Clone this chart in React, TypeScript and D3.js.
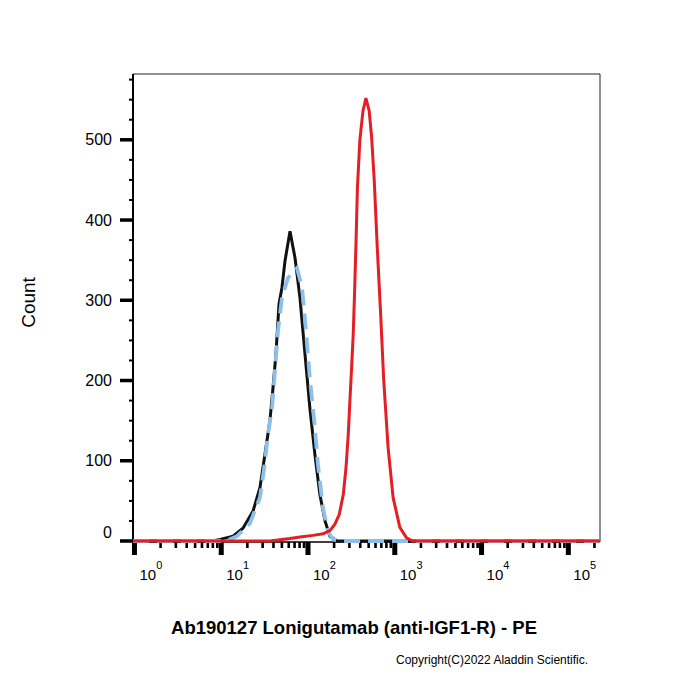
import * as d3 from 'd3';
import React from 'react';

// Histogram series: [fluorescence intensity (PE), event count]
const blankControl: [number, number][] = [
  [0.962, 0], [7.9, 0], [9.7, 2], [13.7, 6], [17.8, 16], [23.2, 37], [27.9, 66],
  [31.9, 108], [36.4, 150], [39.5, 191], [42.7, 233], [46.3, 295], [50.1, 316],
  [54.3, 349], [62.0, 386], [70.8, 353], [80.8, 303], [92.3, 233], [105, 166],
  [120, 108], [137, 58], [157, 25], [179, 6], [216, 0], [231700, 0],
];

const isotypeControl: [number, number][] = [
  [0.962, 0], [11.2, 0], [15.2, 6], [21.4, 22], [27.9, 54], [31.0, 88], [34.6, 133],
  [38.5, 166], [41.6, 212], [45.1, 262], [50.1, 303], [58.8, 328], [74.6, 340],
  [85.3, 316], [94.8, 262], [105, 203], [120, 141], [130, 96], [149, 41],
  [170, 12], [194, 2], [234, 0], [231700, 0],
];

const lonigutamab: [number, number][] = [
  [0.962, 0], [36.5, 0], [61.9, 3], [80.8, 5], [114, 7], [149, 9], [179, 13],
  [204, 21], [229, 33], [255, 58], [274, 91], [291, 133], [304, 175], [318, 216],
  [332, 258], [343, 305], [357, 370], [371, 440], [396, 500], [430, 536],
  [465, 552], [507, 536], [541, 503], [580, 449], [628, 366], [687, 283],
  [746, 200], [838, 116], [957, 54], [1143, 17], [1365, 4], [1614, 0], [231700, 0],
];

const decades = [0, 1, 2, 3, 4, 5];
const countTicks = [0, 100, 200, 300, 400, 500];

const xLabel = 'Ab190127 Lonigutamab (anti-IGF1-R) - PE';
const yLabel = 'Count';
const copyright = 'Copyright(C)2022 Aladdin Scientific.';

const font = 'Arial, "Liberation Sans", sans-serif';

export default function App() {
  const plot = { left: 133, right: 600, top: 74, bottom: 541 };

  const x = d3.scaleLog().domain([0.962, 231700]).range([plot.left, plot.right]);
  const y = d3.scaleLinear().domain([0, 582]).range([plot.bottom, plot.top]);

  const line = d3
    .line<[number, number]>()
    .x((d) => x(d[0]))
    .y((d) => y(d[1]));

  const [xMin, xMax] = x.domain();
  const minorX: number[] = [];
  decades.forEach((k) => {
    for (let m = 2; m <= 9; m++) {
      const v = m * Math.pow(10, k);
      if (v >= xMin && v <= xMax) minorX.push(v);
    }
  });
  const minorY = d3.range(25, 582, 25).filter((v) => v % 100 !== 0);

  const axisY = plot.bottom + 1;

  return (
    <svg
      width={700}
      height={700}
      style={{ position: 'absolute', left: 0, top: 0, background: '#fff' }}
      fontFamily={font}
    >
      <rect width={700} height={700} fill="#fff" />

      {/* frame */}
      <line x1={plot.left} x2={plot.right} y1={plot.top} y2={plot.top} stroke="#222" strokeWidth={1} />
      <line x1={plot.right} x2={plot.right} y1={plot.top} y2={axisY} stroke="#222" strokeWidth={1} />
      <line x1={plot.left} x2={plot.left} y1={plot.top} y2={axisY + 1} stroke="#000" strokeWidth={2} />
      <line x1={plot.left} x2={plot.right} y1={axisY} y2={axisY} stroke="#000" strokeWidth={1.5} />

      {/* y axis ticks */}
      {minorY.map((v) => (
        <rect key={`my-${v}`} x={plot.left - 4} y={y(v) - 1} width={4} height={2} fill="#000" />
      ))}
      {countTicks.map((v) => (
        <g key={`y-${v}`}>
          <rect x={plot.left - 13} y={y(v) - 1.75} width={13} height={3.5} fill="#000" />
          <text
            x={112}
            y={y(v) - (v === 0 ? 9 : 0)}
            textAnchor="end"
            dominantBaseline="central"
            fontSize={16}
          >
            {v}
          </text>
        </g>
      ))}

      {/* x axis ticks */}
      {minorX.map((v) => (
        <rect key={`mx-${v}`} x={x(v) - 1.3} y={axisY} width={2.6} height={6} fill="#000" />
      ))}
      {decades.map((k) => {
        const px = x(Math.pow(10, k));
        return (
          <g key={`x-${k}`}>
            <rect x={px - 2.5} y={axisY} width={5} height={13} fill="#000" />
            <text x={px + 5} y={580} fontSize={15}>
              10
              <tspan dy={-11} fontSize={11}>
                {k}
              </tspan>
            </text>
          </g>
        );
      })}

      {/* histograms */}
      <path d={line(blankControl) ?? ''} fill="none" stroke="#111" strokeWidth={3} />
      <path
        d={line(isotypeControl) ?? ''}
        fill="none"
        stroke="#8cc0ea"
        strokeWidth={3.8}
        strokeDasharray="16 8"
      />
      <path d={line(lonigutamab) ?? ''} fill="none" stroke="#e31e24" strokeWidth={3} />

      {/* titles */}
      <text
        transform="translate(28.5, 302.5) rotate(-90)"
        textAnchor="middle"
        dominantBaseline="central"
        fontSize={19}
      >
        {yLabel}
      </text>
      <text x={354} y={634} textAnchor="middle" fontSize={18.5} fontWeight="bold">
        {xLabel}
      </text>
      <text x={396} y={664} fontSize={12}>
        {copyright}
      </text>
    </svg>
  );
}
